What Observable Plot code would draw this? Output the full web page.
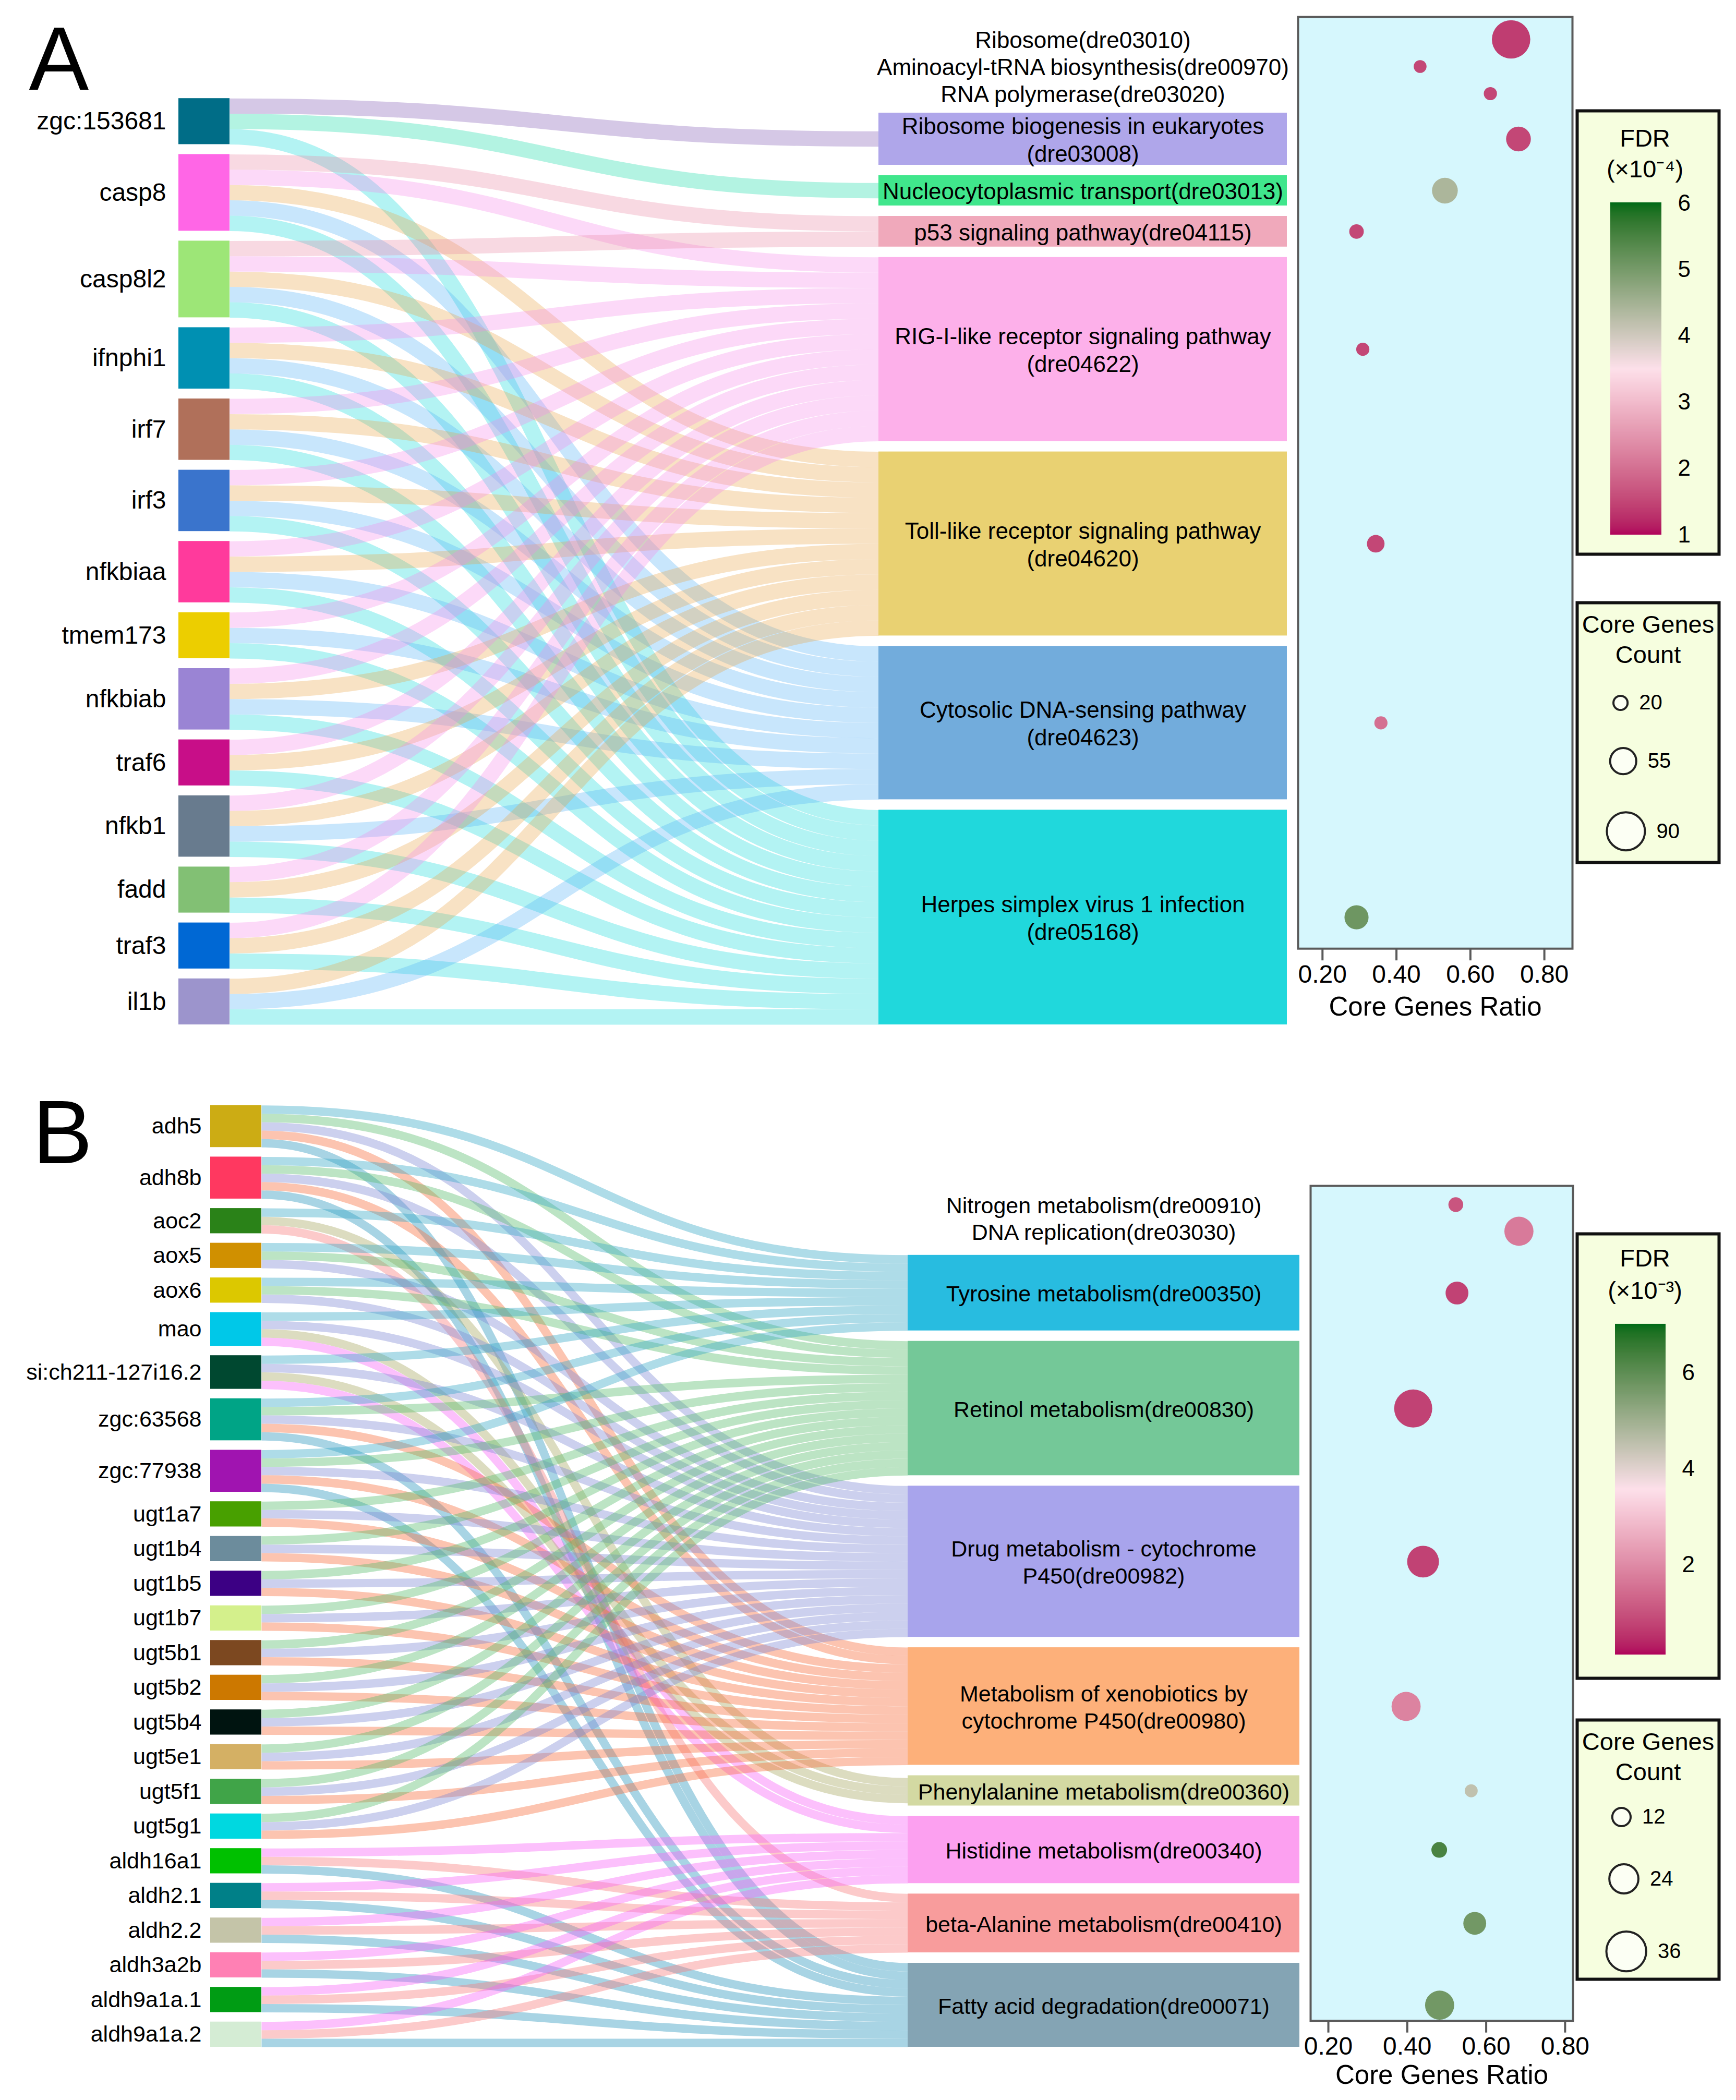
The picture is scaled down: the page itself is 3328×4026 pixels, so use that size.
<!DOCTYPE html>
<html>
<head>
<meta charset="utf-8">
<script src="https://cdn.jsdelivr.net/npm/d3@7"></script>
<script src="https://cdn.jsdelivr.net/npm/@observablehq/plot@0.6"></script>
<style>
html,body{margin:0;padding:0;background:#fff;}
#root{position:relative;width:3328px;height:4026px;background:#fff;font-family:"Liberation Sans",Arial,sans-serif;overflow:hidden;}
#root svg{position:absolute;}
</style>
</head>
<body>
<div id="root"></div>
<script>
// ---------------- DATA : panel A ----------------
const genesA = ["zgc:153681","casp8","casp8l2","ifnphi1","irf7","irf3","nfkbiaa","tmem173","nfkbiab","traf6","nfkb1","fadd","traf3","il1b"];
const geneTargetsA = [
  ["dre03008","dre03013","dre05168"],
  ["dre04115","dre04622","dre04620","dre04623","dre05168"],
  ["dre04115","dre04622","dre04620","dre04623","dre05168"],
  ["dre04622","dre04620","dre04623","dre05168"],
  ["dre04622","dre04620","dre04623","dre05168"],
  ["dre04622","dre04620","dre04623","dre05168"],
  ["dre04622","dre04620","dre04623","dre05168"],
  ["dre04622","dre04623","dre05168"],
  ["dre04622","dre04620","dre04623","dre05168"],
  ["dre04622","dre04620","dre05168"],
  ["dre04622","dre04620","dre04623","dre05168"],
  ["dre04622","dre04620","dre05168"],
  ["dre04622","dre04620","dre05168"],
  ["dre04620","dre04623","dre05168"]
];
const pathIdsA = ["dre03010","dre00970","dre03020","dre03008","dre03013","dre04115","dre04622","dre04620","dre04623","dre05168"];
const pathLabelsA = [
  "Ribosome(dre03010)",
  "Aminoacyl-tRNA biosynthesis(dre00970)",
  "RNA polymerase(dre03020)",
  "Ribosome biogenesis in eukaryotes\n(dre03008)",
  "Nucleocytoplasmic transport(dre03013)",
  "p53 signaling pathway(dre04115)",
  "RIG-I-like receptor signaling pathway\n(dre04622)",
  "Toll-like receptor signaling pathway\n(dre04620)",
  "Cytosolic DNA-sensing pathway\n(dre04623)",
  "Herpes simplex virus 1 infection\n(dre05168)"
];
const ratioA = [0.71, 0.464, 0.654, 0.73, 0.531, 0.292, 0.309, 0.344, 0.358, 0.292];
const countA = [91, 16, 17, 51, 54, 21, 17, 30, 17, 49];
const fdrA   = [1.4, 1.5, 1.5, 1.5, 4.4, 1.5, 1.5, 1.5, 2.0, 5.1];
const fdrTicksA = [1, 2, 3, 4, 5, 6];
const sizeKeysA = [20, 55, 90];

// ---------------- DATA : panel B ----------------
const genesB = ["adh5","adh8b","aoc2","aox5","aox6","mao","si:ch211-127i16.2","zgc:63568","zgc:77938","ugt1a7","ugt1b4","ugt1b5","ugt1b7","ugt5b1","ugt5b2","ugt5b4","ugt5e1","ugt5f1","ugt5g1","aldh16a1","aldh2.1","aldh2.2","aldh3a2b","aldh9a1a.1","aldh9a1a.2"];
const tADH = ["dre00350","dre00830","dre00982","dre00980","dre00071"];
const tAOX = ["dre00350","dre00830","dre00982"];
const tMAO = ["dre00350","dre00982","dre00360","dre00340"];
const tUGT = ["dre00830","dre00982","dre00980"];
const tALDH = ["dre00340","dre00410","dre00071"];
const geneTargetsB = [
  tADH, tADH, ["dre00350","dre00360","dre00410"], tAOX, tAOX, tMAO, tMAO, tADH, tADH,
  tUGT, tUGT, tUGT, tUGT, tUGT, tUGT, tUGT, tUGT, tUGT, tUGT,
  tALDH, tALDH, tALDH, tALDH, tALDH, tALDH
];
const pathIdsB = ["dre00910","dre03030","dre00350","dre00830","dre00982","dre00980","dre00360","dre00340","dre00410","dre00071"];
const pathLabelsB = [
  "Nitrogen metabolism(dre00910)",
  "DNA replication(dre03030)",
  "Tyrosine metabolism(dre00350)",
  "Retinol metabolism(dre00830)",
  "Drug metabolism - cytochrome\nP450(dre00982)",
  "Metabolism of xenobiotics by\ncytochrome P450(dre00980)",
  "Phenylalanine metabolism(dre00360)",
  "Histidine metabolism(dre00340)",
  "beta-Alanine metabolism(dre00410)",
  "Fatty acid degradation(dre00071)"
];
const ratioB = [0.523, 0.683, 0.526, 0.415, 0.440, 0.397, 0.562, 0.481, 0.571, 0.482];
const countB = [8, 24, 17, 34, 27, 24, 6, 9, 17, 24];
const fdrB   = [1.05, 1.7, 0.75, 0.75, 0.75, 1.85, 4.5, 6.3, 5.7, 5.7];
const fdrTicksB = [2, 4, 6];
const sizeKeysB = [12, 24, 36];

// ---------------- STYLES ----------------
const geneColorsA = ["#006d87","#ff66e6","#9de677","#0090b2","#b0705a","#3a74cc","#ff3a9c","#ecce00","#9a84d4","#c80e88","#687b8e","#82c074","#0068d4","#9c94cc"];
const pathColorsA = [null,null,null,"#afa6ea","#40e68c","#f0a9bb","#fdb0ea","#e9d172","#72acdc","#20d8dc"];
const linkColorsA = [null,null,null,"#7d55b2","#12daa5","#e88aa5","#f58ae8","#e8a548","#55b2f5","#12dada"];
const geneColorsB = ["#ccac14","#ff3860","#2a8218","#d09000","#dcc800","#00c8e8","#004830","#00a486","#a014b0","#48a000","#6c8c9c","#3c0084","#d4f08c","#7c4820","#cc7800","#001410","#d4b064","#40a448","#00d8e0","#00c000","#008088","#c4c4a8","#ff80b4","#009c14","#d4ecd4"];
const pathColorsB = [null,null,"#28bce0","#74c898","#a8a4ec","#fdb07a","#d3d9a2","#fca0f0","#f89c9c","#84a4b4"];
const linkColorsB = [null,null,"#34a7c5","#57bb6b","#7f89d4","#f76b39","#a7a761","#f761f7","#f77a7a","#2593bb"];
const fdrRange = ["#b0005c", "#fde0ea", "#006b17"];
const FONT = "'Liberation Sans', Arial, Helvetica, sans-serif";

// ---------------- LAYOUT ----------------
const cfgA = {
  unit: 29.4, gapL: 19, gapR: 20, bottom: 1964, geneX: [342, 440], pathX: [1684, 2467],
  labelPad: 24, geneFont: 48, pathFont: 44, labelGap: 37, labelStep: 52, minH1: 58, minH2: 100,
  linkOpacity: 0.32, top: 0, plotH: 2010, letter: "A", letterX: 55, letterBase: 171,
  frameX: [2488, 3014], xDomain: [0.134, 0.876], padTop: 43, padBot: 60, axisLabelDy: 112,
  rDomain: [20, 90], rRange: [13.6, 36.5], cDomain: [1, 3.5, 6],
  fdrBox: {x: 3020, y: 209, h: 856, t1: 56, t2: 115, title2: "(×10\u207B\u2074)", lo: 1, hi: 6, barTop: 180, barBot: 816, barX: [67, 165], tickX: 196},
  sizeBox: {x: 3020, y: 1152, h: 504, t: 71, k0: 195}
};
const cfgB = {
  unit: 16.1, gapL: 18.2, gapR: 20, bottom: 3924, geneX: [403, 501], pathX: [1740, 2491],
  labelPad: 17, geneFont: 43, pathFont: 43, labelGap: 46, labelStep: 51, minH1: 58, minH2: 100,
  linkOpacity: 0.4, top: 2040, plotH: 1986, letter: "B", letterX: 62, letterBase: 2229,
  frameX: [2512, 3015], xDomain: [0.155, 0.82], padTop: 36, padBot: 30, axisLabelDy: 104,
  rDomain: [12, 36], rRange: [17.6, 38.2], cDomain: [0.13, 3.57, 7.0],
  fdrBox: {x: 3020, y: 2362, h: 858, t1: 50, t2: 112, title2: "(×10\u207B\u00B3)", lo: 0.13, hi: 7.0, barTop: 177, barBot: 810, barX: [76, 173], tickX: 204},
  sizeBox: {x: 3020, y: 3294, h: 503, t: 71, k0: 189}
};

const root = document.getElementById("root");
function place(svg, left, top) {
  svg.style.position = "absolute";
  svg.style.left = left + "px";
  svg.style.top = top + "px";
  root.appendChild(svg);
}
const baseStyle = {background: "transparent", fontFamily: FONT, overflow: "visible", color: "black", maxWidth: "none"};

function buildPanel(cfg, D) {
  const U = cfg.unit;
  const links = [];
  D.genes.forEach((g, gi) => D.targets[gi].forEach(p => links.push({gi, pi: D.pathIds.indexOf(p)})));
  // gene column (bottom aligned)
  const gCounts = D.genes.map((_, i) => D.targets[i].length);
  let y = cfg.bottom - (d3.sum(gCounts) * U + (D.genes.length - 1) * cfg.gapL);
  const gNodes = D.genes.map((name, i) => {
    const n = {name, color: D.geneColors[i], y0: y, y1: y + gCounts[i] * U};
    y = n.y1 + cfg.gapL;
    return n;
  });
  // pathway column
  const idx = D.pathIds.map((_, i) => i);
  const pCounts = idx.map(i => links.filter(l => l.pi === i).length);
  const linked = idx.filter(i => pCounts[i] > 0);
  const free = idx.filter(i => pCounts[i] === 0);
  const pH = idx.map(i => Math.max(pCounts[i] * U, D.pathLabels[i].includes("\n") ? cfg.minH2 : cfg.minH1));
  let yr = cfg.bottom - (d3.sum(linked, i => pH[i]) + (linked.length - 1) * cfg.gapR);
  const pNodes = [];
  const rowY = [];
  linked.forEach(i => {
    const n = {i, color: D.pathColors[i], y0: yr, y1: yr + pH[i]};
    pNodes.push(n);
    rowY[i] = (n.y0 + n.y1) / 2;
    yr = n.y1 + cfg.gapR;
  });
  const firstTop = pNodes[0].y0;
  free.forEach((i, j) => { rowY[i] = firstTop - cfg.labelGap - (free.length - 1 - j) * cfg.labelStep; });
  // link slots
  gNodes.forEach((n, gi) => {
    links.filter(l => l.gi === gi).sort((a, b) => a.pi - b.pi).forEach((l, k) => { l.ys = n.y0 + (k + 0.5) * U; });
  });
  pNodes.forEach(n => {
    const ls = links.filter(l => l.pi === n.i).sort((a, b) => a.gi - b.gi);
    const off = (n.y1 - n.y0 - ls.length * U) / 2;
    ls.forEach((l, k) => { l.yt = n.y0 + off + (k + 0.5) * U; });
  });
  const labels = idx.map(i => ({text: D.pathLabels[i], y: rowY[i]}));
  const pathCX = (cfg.pathX[0] + cfg.pathX[1]) / 2;

  // ---- sankey plot ----
  const sankey = Plot.plot({
    width: 2500, height: cfg.plotH, margin: 0,
    x: {domain: [0, 2500], range: [0, 2500], axis: null},
    y: {domain: [cfg.top, cfg.top + cfg.plotH], range: [0, cfg.plotH], axis: null},
    color: {type: "identity"},
    style: baseStyle,
    marks: [
      Plot.link(links, {
        x1: () => cfg.geneX[1], x2: () => cfg.pathX[0], y1: "ys", y2: "yt",
        stroke: d => D.linkColors[d.pi], strokeWidth: U, strokeOpacity: cfg.linkOpacity, curve: "bump-x"
      }),
      Plot.rect(gNodes, {x1: () => cfg.geneX[0], x2: () => cfg.geneX[1], y1: "y0", y2: "y1", fill: "color"}),
      Plot.rect(pNodes, {x1: () => cfg.pathX[0], x2: () => cfg.pathX[1], y1: "y0", y2: "y1", fill: "color"}),
      Plot.text(gNodes, {x: () => cfg.geneX[0] - cfg.labelPad, y: d => (d.y0 + d.y1) / 2, text: "name", textAnchor: "end", fontSize: cfg.geneFont, fill: "black"}),
      Plot.text(labels, {x: () => pathCX, y: "y", text: "text", textAnchor: "middle", lineAnchor: "middle", fontSize: cfg.pathFont, lineHeight: 1.2, fill: "black"}),
      Plot.text([cfg.letter], {x: () => cfg.letterX, y: () => cfg.letterBase - 0.71 * 172, text: d => d, textAnchor: "start", lineAnchor: "top", fontSize: 172, fill: "black"})
    ]
  });
  place(sankey, 0, cfg.top);

  // ---- bubble plot ----
  const rows = idx.map(i => ({ratio: D.ratio[i], count: D.count[i], fdr: D.fdr[i], y: rowY[i]}));
  const ft = d3.min(rows, d => d.y) - cfg.padTop;
  const fb = d3.max(rows, d => d.y) + cfg.padBot;
  const mL = 70, mR = 70, mT = 10, mB = 160;
  const fh = fb - ft;
  const colorScale = {type: "linear", domain: cfg.cDomain, range: fdrRange, interpolate: d3.interpolateLab};
  const rScale = {type: "linear", domain: cfg.rDomain, range: cfg.rRange};
  const bubble = Plot.plot({
    width: (cfg.frameX[1] - cfg.frameX[0]) + mL + mR,
    height: fh + mT + mB,
    marginLeft: mL, marginRight: mR, marginTop: mT, marginBottom: mB,
    x: {domain: cfg.xDomain},
    y: {domain: [ft, fb], range: [mT, mT + fh], axis: null},
    r: rScale,
    color: colorScale,
    style: baseStyle,
    marks: [
      Plot.frame({fill: "#d6f7fd", stroke: "#5a5a5a", strokeWidth: 4}),
      Plot.dot(rows, {x: "ratio", y: "y", r: "count", fill: "fdr"}),
      Plot.axisX({ticks: [0.2, 0.4, 0.6, 0.8], tickFormat: ".2f", tickSize: 23, tickPadding: 8, fontSize: 48, stroke: "#5a5a5a", strokeWidth: 4, label: null, fill: "black"}),
      Plot.text(["Core Genes Ratio"], {frameAnchor: "bottom", lineAnchor: "middle", dy: cfg.axisLabelDy, fontSize: 51, fill: "black"})
    ]
  });
  place(bubble, cfg.frameX[0] - mL, ft - mT);

  // ---- FDR legend ----
  const fb2 = cfg.fdrBox;
  const step = (fb2.hi - fb2.lo) / 300;
  const strips = d3.range(300).map(k => ({a: fb2.lo + k * step, b: fb2.lo + (k + 1) * step + step * 0.5, v: fb2.lo + (k + 0.5) * step}));
  const fdrLegend = Plot.plot({
    width: 278, height: fb2.h, margin: 0,
    x: {domain: [0, 278], range: [0, 278], axis: null},
    y: {domain: [fb2.lo, fb2.hi], range: [fb2.barBot, fb2.barTop], axis: null},
    color: colorScale,
    style: baseStyle,
    marks: [
      Plot.frame({fill: "#f6fedf", stroke: "#111", strokeWidth: 6, inset: 3}),
      Plot.text(["FDR"], {frameAnchor: "top", lineAnchor: "middle", dx: -6, dy: fb2.t1, fontSize: 47, fill: "black"}),
      Plot.text([fb2.title2], {frameAnchor: "top", lineAnchor: "middle", dx: -6, dy: fb2.t2, fontSize: 47, fill: "black"}),
      Plot.rect(strips, {x1: () => fb2.barX[0], x2: () => fb2.barX[1], y1: "a", y2: "b", fill: "v"}),
      Plot.text(cfg === cfgA ? fdrTicksA : fdrTicksB, {x: () => fb2.tickX, y: d => d, text: d => String(d), textAnchor: "start", lineAnchor: "middle", fontSize: 44, fill: "black"})
    ]
  });
  place(fdrLegend, fb2.x, fb2.y);

  // ---- size legend ----
  const sb = cfg.sizeBox;
  const rOf = d3.scaleLinear().domain(cfg.rDomain).range(cfg.rRange);
  const keyVals = cfg === cfgA ? sizeKeysA : sizeKeysB;
  let ky = sb.k0;
  const keys = keyVals.map((v, k) => {
    const r = rOf(v);
    if (k > 0) ky += rOf(keyVals[k - 1]) + r + 73;
    const cx = 80 + 0.45 * r;
    return {v, cx, cy: ky, lx: cx + r + 22};
  });
  const sizeLegend = Plot.plot({
    width: 278, height: sb.h, margin: 0,
    x: {domain: [0, 278], range: [0, 278], axis: null},
    y: {domain: [0, sb.h], range: [0, sb.h], axis: null},
    r: rScale,
    style: baseStyle,
    marks: [
      Plot.frame({fill: "#f6fedf", stroke: "#111", strokeWidth: 6, inset: 3}),
      Plot.text(["Core Genes\nCount"], {frameAnchor: "top", lineAnchor: "middle", dy: sb.t, fontSize: 47, lineHeight: 1.23, fill: "black"}),
      Plot.dot(keys, {x: "cx", y: "cy", r: "v", fill: "#fcfff4", stroke: "#222", strokeWidth: 4}),
      Plot.text(keys, {x: "lx", y: "cy", text: d => String(d.v), textAnchor: "start", lineAnchor: "middle", fontSize: 40, fill: "black"})
    ]
  });
  place(sizeLegend, sb.x, sb.y);
}

buildPanel(cfgA, {genes: genesA, targets: geneTargetsA, pathIds: pathIdsA, pathLabels: pathLabelsA,
  ratio: ratioA, count: countA, fdr: fdrA, geneColors: geneColorsA, pathColors: pathColorsA, linkColors: linkColorsA});
buildPanel(cfgB, {genes: genesB, targets: geneTargetsB, pathIds: pathIdsB, pathLabels: pathLabelsB,
  ratio: ratioB, count: countB, fdr: fdrB, geneColors: geneColorsB, pathColors: pathColorsB, linkColors: linkColorsB});
</script>
</body>
</html>
